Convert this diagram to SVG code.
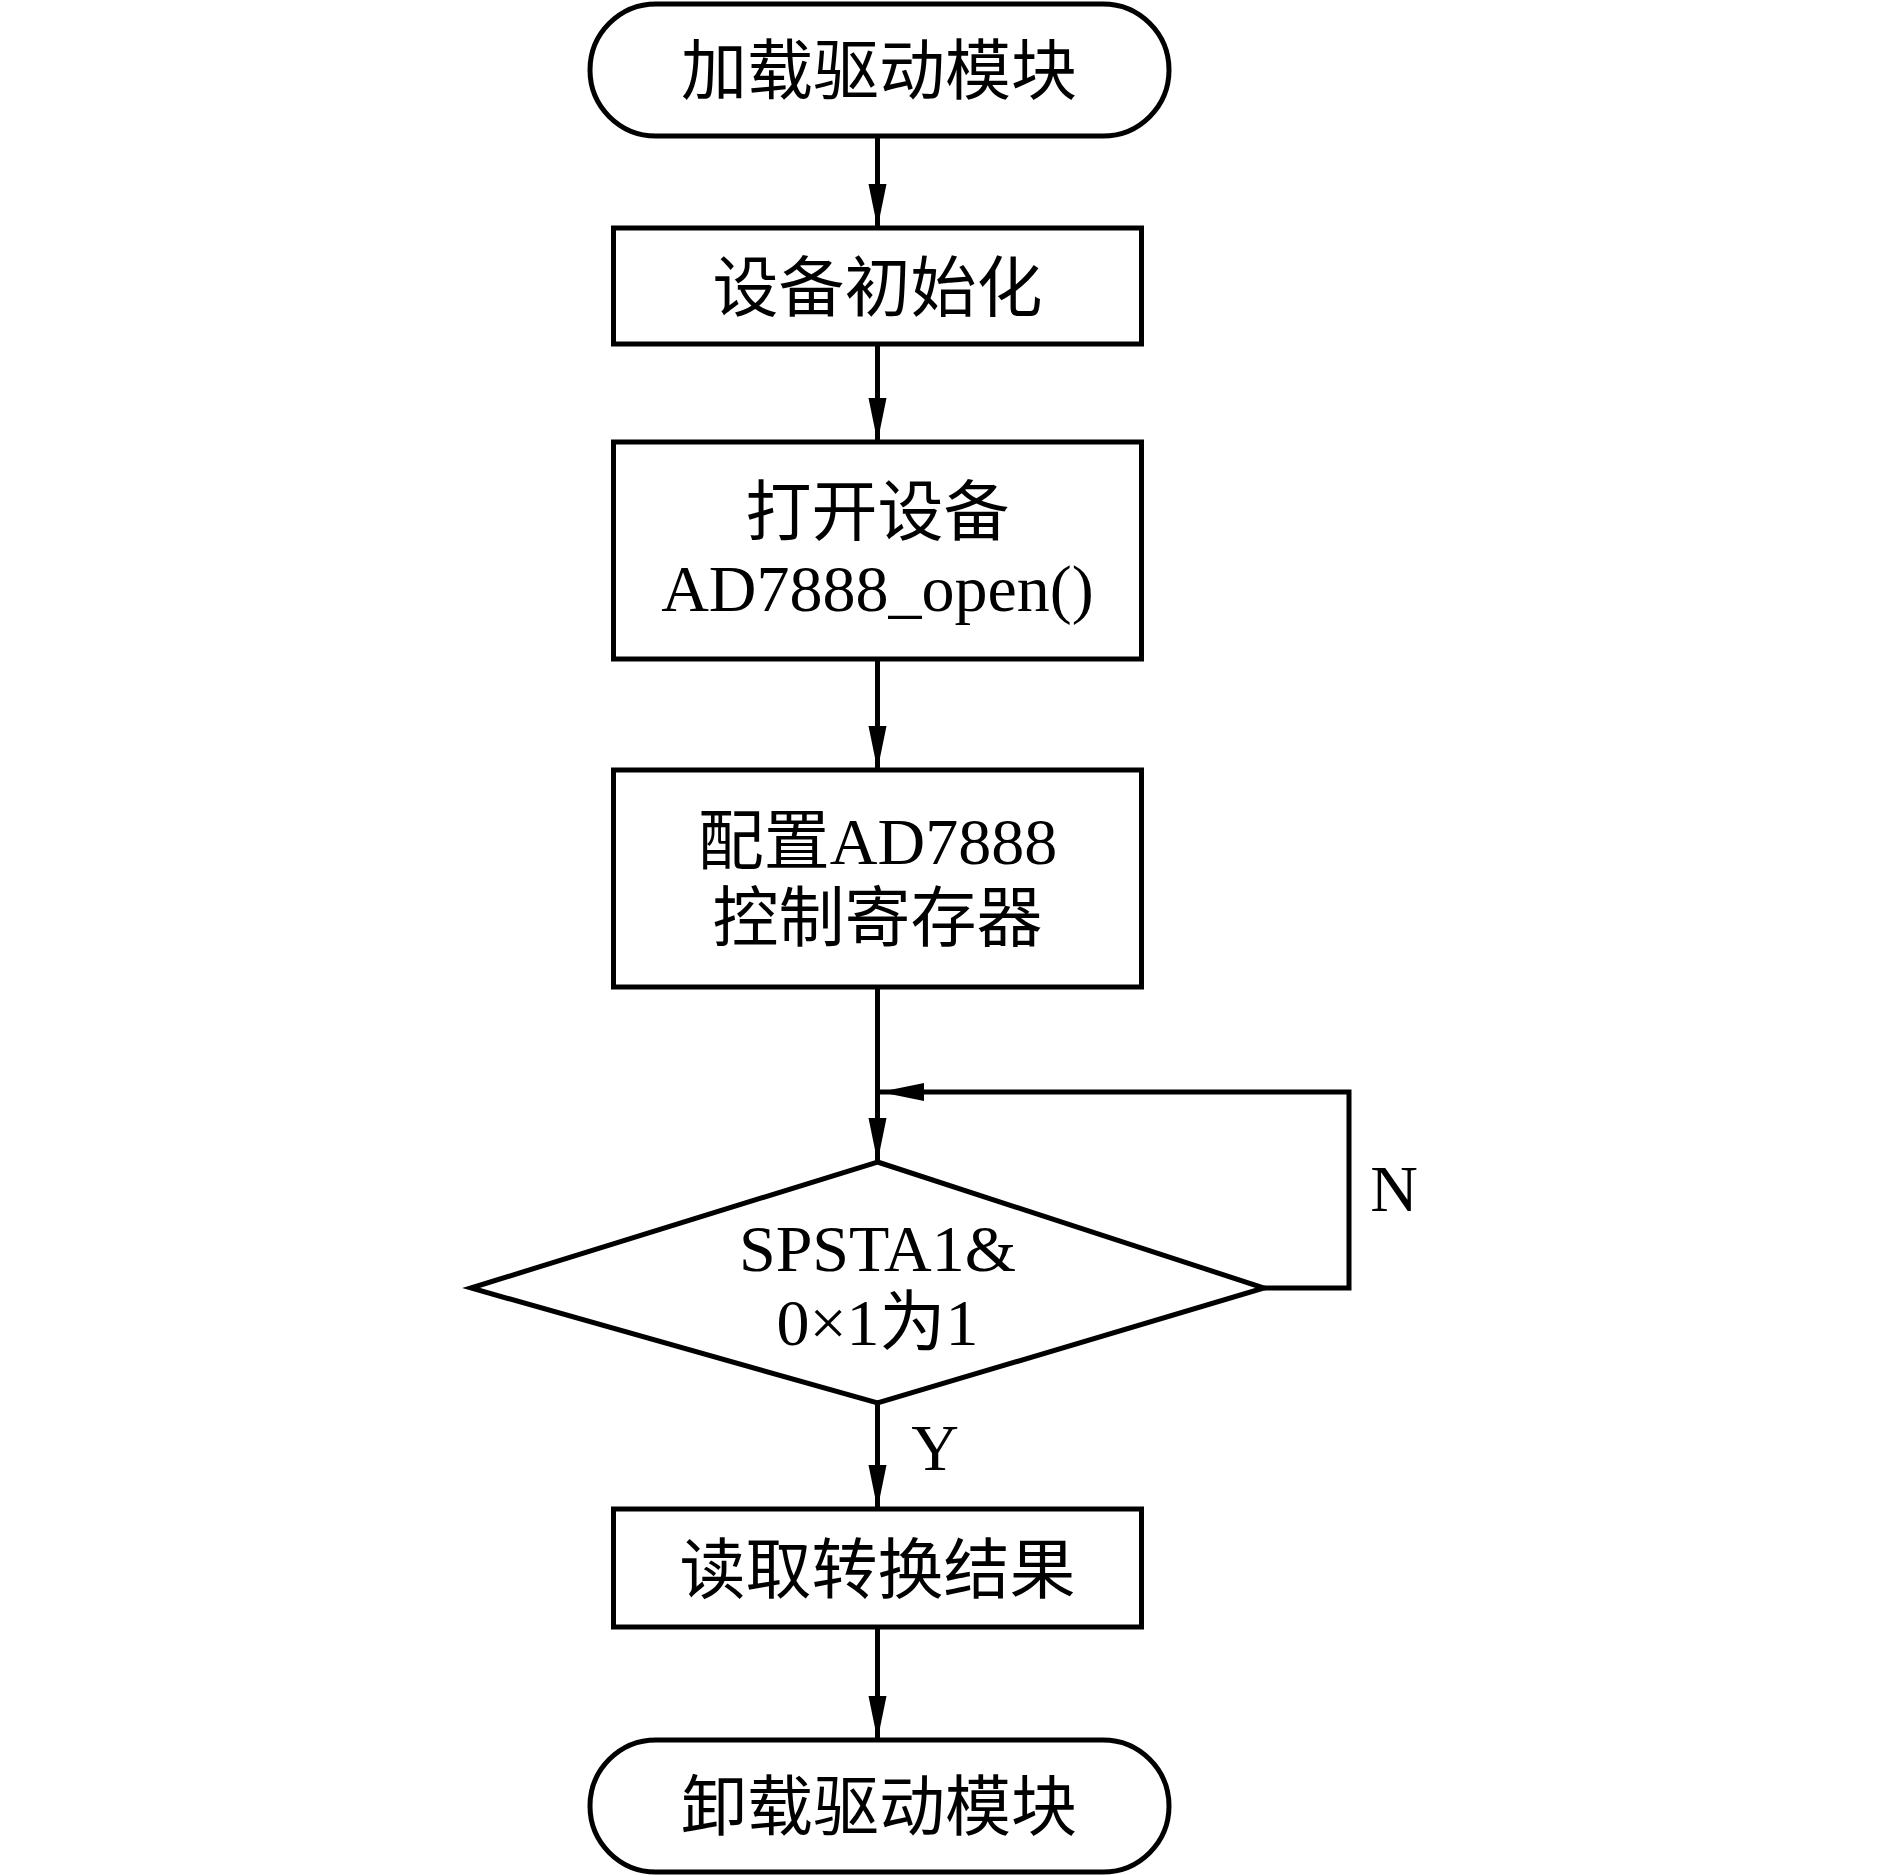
<svg xmlns="http://www.w3.org/2000/svg" width="1889" height="1875" viewBox="0 0 1889 1875">
<defs>
<style>
.s{fill:#fff;stroke:#000;stroke-width:5}
.c{fill:none;stroke:#000;stroke-width:5}
.t{font-family:"Liberation Serif","Noto Sans CJK SC",serif;font-size:66px;fill:#000;text-anchor:middle}
</style>
<marker id="ah" markerUnits="userSpaceOnUse" markerWidth="44" markerHeight="20" viewBox="0 0 44 20" refX="44" refY="10" orient="auto">
<path d="M0,1 L44,10 L0,19 Z" fill="#000"/>
</marker>
</defs>
<rect width="1889" height="1875" fill="#fff"/>
<g id="connectors">
<line class="c" x1="877.5" y1="136" x2="877.5" y2="228" marker-end="url(#ah)"/>
<line class="c" x1="877.5" y1="344" x2="877.5" y2="442" marker-end="url(#ah)"/>
<line class="c" x1="877.5" y1="659" x2="877.5" y2="770" marker-end="url(#ah)"/>
<line class="c" x1="877.5" y1="987" x2="877.5" y2="1162" marker-end="url(#ah)"/>
<polyline class="c" points="1264,1288 1349,1288 1349,1092 880,1092" marker-end="url(#ah)"/>
<line class="c" x1="877.5" y1="1403" x2="877.5" y2="1509" marker-end="url(#ah)"/>
<line class="c" x1="877.5" y1="1627" x2="877.5" y2="1740" marker-end="url(#ah)"/>
<text class="t" x="935" y="1470">Y</text>
<text class="t" x="1394" y="1211">N</text>
</g>
<g id="start">
<rect class="s" x="590" y="4" width="579" height="132" rx="66"/>
<text class="t" x="879" y="94">加载驱动模块</text>
</g>
<g id="init">
<rect class="s" x="613.5" y="228" width="528" height="116"/>
<text class="t" x="877.5" y="311">设备初始化</text>
</g>
<g id="open">
<rect class="s" x="613.5" y="442" width="528" height="217"/>
<text class="t" x="877.5" y="535">打开设备</text>
<text class="t" x="877.5" y="611">AD7888_open()</text>
</g>
<g id="config">
<rect class="s" x="613.5" y="770" width="528" height="217"/>
<text class="t" x="877.5" y="864">配置AD7888</text>
<text class="t" x="877.5" y="941">控制寄存器</text>
</g>
<g id="check">
<polygon class="s" points="877.5,1162 1264,1288 877.5,1403 471,1288"/>
<text class="t" x="877.5" y="1271">SPSTA1&amp;</text>
<text class="t" x="877.5" y="1345">0×1为1</text>
</g>
<g id="read">
<rect class="s" x="613.5" y="1509" width="528" height="118"/>
<text class="t" x="877.5" y="1593">读取转换结果</text>
</g>
<g id="end">
<rect class="s" x="590" y="1740" width="579" height="132" rx="66"/>
<text class="t" x="879" y="1830">卸载驱动模块</text>
</g>
</svg>
